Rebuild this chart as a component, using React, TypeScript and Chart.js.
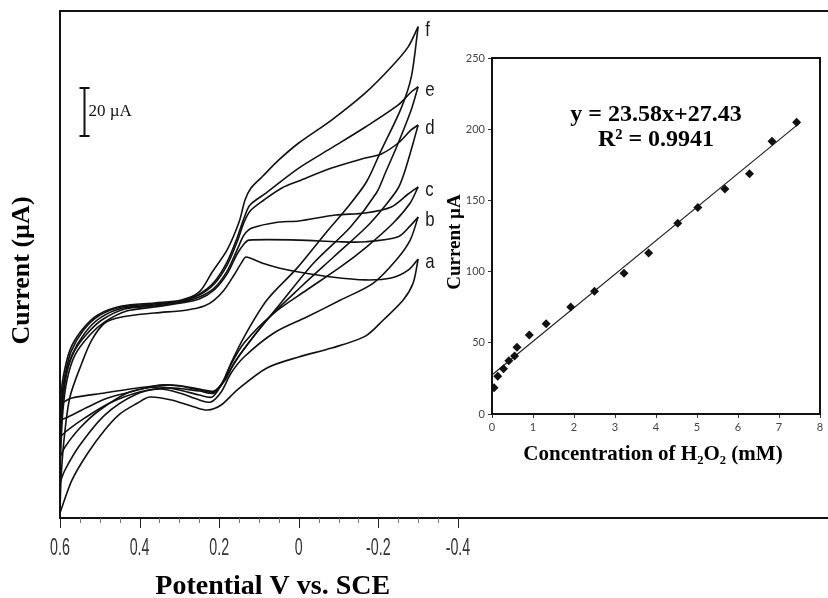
import React, { useEffect, useRef } from 'react';
import { Chart, registerables } from 'chart.js';

Chart.register(...registerables);

type Pt = [number, number];

// ---------- Cyclic voltammograms (potential V, current µA) ----------
const curveNames = ['a', 'b', 'c', 'd', 'e', 'f'];

const aUpper: Pt[] = [[0.6, 2.1], [0.5975, 15.8], [0.59, 32.5], [0.575, 50.4], [0.545, 64.6], [0.52, 74.2], [0.4875, 81.25], [0.445, 83.75], [0.3625, 85.4], [0.28, 86.7], [0.2375, 88.3], [0.2125, 90.8], [0.1875, 95], [0.1625, 101.25], [0.1425, 106.7], [0.1325, 108.75], [0.0925, 106.25], [0.05, 104.2], [0, 102.5], [-0.0825, 100.4], [-0.1675, 99.2], [-0.2325, 100], [-0.275, 103.3], [-0.3, 107.9]];
const aLower: Pt[] = [[-0.3, 107.9], [-0.2875, 97.9], [-0.2625, 90.8], [-0.2125, 82.5], [-0.1675, 75.8], [-0.0825, 70.8], [0, 67.1], [0.08, 62.5], [0.155, 53.3], [0.195, 47.1], [0.23, 45], [0.2625, 46.25], [0.32, 49.2], [0.375, 50.4], [0.405, 47.9], [0.45, 43.3], [0.4875, 36.7], [0.53, 27.1], [0.57, 15.8], [0.6, 2.1]];

const bUpper: Pt[] = [[0.6, 14.6], [0.5975, 30.4], [0.5925, 45], [0.5825, 57.5], [0.5625, 67.9], [0.525, 76.25], [0.4875, 81.7], [0.4325, 86.25], [0.3625, 87.9], [0.295, 89.6], [0.25, 91.25], [0.2125, 95], [0.18, 101.7], [0.155, 110], [0.1375, 114.2], [0.125, 115.8], [0, 115.8], [-0.1, 115.1], [-0.1675, 115.1], [-0.25, 117.2], [-0.28, 121.7], [-0.3, 125.4]];
const bLower: Pt[] = [[-0.3, 125.4], [-0.28, 115.8], [-0.245, 107.5], [-0.1875, 97.9], [-0.105, 90.8], [-0.02, 83.75], [0.0625, 77.1], [0.1375, 67.1], [0.17, 60.4], [0.195, 52.5], [0.221, 48.3], [0.25, 49.2], [0.3, 52.1], [0.35, 53.75], [0.4125, 51.25], [0.4875, 42.9], [0.55, 30.4], [0.5875, 20], [0.6, 14.6]];

const cUpper: Pt[] = [[0.6, 25.4], [0.5975, 38.75], [0.59, 53.3], [0.58, 62.5], [0.5625, 70], [0.5325, 76.7], [0.495, 82.5], [0.4375, 87.1], [0.3625, 88.3], [0.295, 90], [0.25, 92.1], [0.2125, 95.8], [0.18, 102.9], [0.155, 111.7], [0.1375, 117.9], [0.1175, 120.8], [0.05, 123.3], [0, 123.75], [-0.0925, 126.25], [-0.1675, 127.1], [-0.2325, 129.6], [-0.275, 135], [-0.3, 138]];
const cLower: Pt[] = [[-0.3, 138], [-0.28, 131.25], [-0.2375, 122.9], [-0.17, 112.9], [-0.105, 104.6], [-0.02, 95], [0.0625, 85.4], [0.1375, 72.9], [0.175, 62.5], [0.195, 55.4], [0.2175, 50.4], [0.25, 51.25], [0.3, 53.3], [0.35, 54.6], [0.425, 52.5], [0.5, 45], [0.55, 37.5], [0.5875, 29.6], [0.6, 25.4]];

const dUpper: Pt[] = [[0.6, 33.75], [0.595, 47.1], [0.5875, 57.5], [0.57, 67.9], [0.5375, 77.1], [0.5, 83.3], [0.4425, 87.5], [0.3625, 88.75], [0.295, 90.4], [0.25, 92.9], [0.2125, 97.5], [0.18, 105.4], [0.155, 115], [0.1375, 123.3], [0.12, 128.3], [0.0875, 132.5], [0.0425, 137.5], [0, 140.4], [-0.0825, 145.8], [-0.1675, 150], [-0.2075, 151.7], [-0.25, 156.25], [-0.2825, 161.7], [-0.3, 163.75]];
const dLower: Pt[] = [[-0.3, 163.75], [-0.2875, 156.25], [-0.2675, 145], [-0.25, 137.5], [-0.2125, 129.2], [-0.17, 121.25], [-0.0875, 108.75], [-0.005, 96.25], [0.08, 82.5], [0.145, 68.75], [0.18, 59.6], [0.2125, 52.1], [0.25, 52.9], [0.325, 54.2], [0.4, 52.5], [0.475, 47.9], [0.5375, 41.7], [0.58, 36.7], [0.6, 33.75]];

const eUpper: Pt[] = [[0.6, 40.8], [0.595, 51.25], [0.5875, 59.6], [0.5725, 69.2], [0.5425, 77.9], [0.5025, 84.2], [0.445, 87.9], [0.3625, 89.2], [0.295, 90.4], [0.25, 93.3], [0.2125, 98.3], [0.18, 106.7], [0.155, 116.7], [0.1375, 125], [0.1225, 130.4], [0.0825, 135.4], [0, 145.8], [-0.0825, 154.2], [-0.1675, 162.9], [-0.25, 172.1], [-0.2825, 177.5], [-0.3, 179.7]];
const eLower: Pt[] = [[-0.3, 179.7], [-0.2825, 170], [-0.25, 156.25], [-0.2175, 143.75], [-0.195, 135.4], [-0.13, 121.25], [-0.0375, 106.25], [0.045, 89.6], [0.12, 74.2], [0.1625, 64.6], [0.185, 57.5], [0.2125, 52.5], [0.25, 53.3], [0.3, 55], [0.35, 55.4], [0.405, 53.3], [0.48, 50], [0.53, 46.25], [0.58, 42.1], [0.6, 40.8]];

const fUpper: Pt[] = [[0.6, 47.5], [0.5925, 58.3], [0.575, 70], [0.545, 78.3], [0.505, 84.6], [0.445, 88.3], [0.3625, 89.6], [0.295, 90.8], [0.25, 94.2], [0.2175, 102.5], [0.18, 111.7], [0.15, 123.3], [0.135, 132.5], [0.12, 137.5], [0.0925, 142.1], [0.05, 149.2], [0, 156.25], [-0.0825, 165.8], [-0.1675, 177.1], [-0.2325, 187.9], [-0.275, 196.3], [-0.3, 204.7]];
const fLower: Pt[] = [[-0.3, 204.7], [-0.283, 183.9], [-0.2575, 170.8], [-0.2075, 153.3], [-0.17, 140], [-0.117, 128.3], [-0.07, 119.2], [0.005, 104], [0.08, 90.8], [0.1375, 75.4], [0.17, 64.6], [0.1875, 57.5], [0.2125, 52.9], [0.2375, 53.3], [0.2625, 54.2], [0.32, 55.4], [0.405, 54.2], [0.4875, 52.1], [0.57, 50], [0.6, 47.5]];

const upperBranches: Pt[][] = [aUpper, bUpper, cUpper, dUpper, eUpper, fUpper];
const lowerBranches: Pt[][] = [aLower, bLower, cLower, dLower, eLower, fLower];

const potentialTicks = [0.6, 0.55, 0.5, 0.45, 0.4, 0.35, 0.3, 0.25, 0.2, 0.15, 0.1, 0.05, 0, -0.05, -0.1, -0.15, -0.2, -0.25, -0.3, -0.35, -0.4];
const potentialLabels = [0.6, 0.4, 0.2, 0, -0.2, -0.4];

const scaleBarPotential = 0.54;
const scaleBarBase = 159.2;
const scaleBarSpan = 20;
const scaleBarText = '20 µA';

// ---------- Inset calibration ----------
const concentrationMM = [0.05, 0.14, 0.28, 0.41, 0.55, 0.61, 0.91, 1.32, 1.92, 2.5, 3.22, 3.82, 4.53, 5.02, 5.68, 6.28, 6.83, 7.43];
const currentUA = [18.5, 26.5, 31.8, 37.4, 40.7, 46.8, 55.5, 63.4, 75.1, 86.2, 98.9, 113, 134, 145, 158, 168.8, 191.5, 204.8];
const fitSlope = 23.58;
const fitIntercept = 27.43;
const fitRange = [0.02, 7.5];
const equationText = 'y = 23.58x+27.43';
const r2Text = 'R² = 0.9941';

const SERIF = "'Liberation Serif', 'Times New Roman', 'DejaVu Serif', serif";
const SANS = "'Liberation Sans', Arial, sans-serif";
const SMALL = "Lato, 'Liberation Sans', sans-serif";

const isLabeled = (v: number) => potentialLabels.some((m) => Math.abs(m - v) < 1e-9);

function condensedText(ctx: CanvasRenderingContext2D, text: string, x: number, y: number, sx: number) {
  ctx.save();
  ctx.translate(x, y);
  ctx.scale(sx, 1);
  ctx.fillText(text, 0, 0);
  ctx.restore();
}

export default function App() {
  const mainRef = useRef<HTMLCanvasElement>(null);
  const insetRef = useRef<HTMLCanvasElement>(null);

  useEffect(() => {
    const toXY = (arr: Pt[]) => arr.map(([x, y]) => ({ x, y }));
    const datasets: any[] = [];
    [...upperBranches, ...lowerBranches].forEach((branch) => {
      datasets.push({
        data: toXY(branch),
        showLine: true,
        borderColor: '#111',
        borderWidth: 1.6,
        pointRadius: 0,
        tension: 0.3,
        fill: false,
      });
    });

    const mainPlugin = {
      id: 'mainDecor',
      afterDraw(chart: any) {
        const { ctx, chartArea } = chart;
        const x = chart.scales.x;
        const y = chart.scales.y;
        ctx.save();
        // tick marks and labels
        potentialTicks.forEach((v) => {
          const px = Math.round(x.getPixelForValue(v)) + 0.5;
          const major = isLabeled(v);
          ctx.strokeStyle = major ? '#222' : '#777';
          ctx.lineWidth = 1;
          ctx.beginPath();
          ctx.moveTo(px, chartArea.bottom);
          ctx.lineTo(px, chartArea.bottom + (major ? 10 : 5));
          ctx.stroke();
        });
        ctx.fillStyle = '#333';
        ctx.font = `23px ${SANS}`;
        ctx.textAlign = 'center';
        ctx.textBaseline = 'top';
        potentialLabels.forEach((v) => {
          condensedText(ctx, String(v), x.getPixelForValue(v), chartArea.bottom + 19, 0.62);
        });
        // curve labels
        ctx.fillStyle = '#1a1a1a';
        ctx.font = `21px ${SANS}`;
        ctx.textAlign = 'left';
        ctx.textBaseline = 'alphabetic';
        upperBranches.forEach((branch, i) => {
          const tip = branch[branch.length - 1];
          condensedText(ctx, curveNames[i], x.getPixelForValue(tip[0]) + 7, y.getPixelForValue(tip[1]) + 9, 0.8);
        });
        // scale bar
        const bx = Math.round(x.getPixelForValue(scaleBarPotential)) + 0.5;
        const by0 = y.getPixelForValue(scaleBarBase);
        const by1 = y.getPixelForValue(scaleBarBase + scaleBarSpan);
        ctx.strokeStyle = '#111';
        ctx.lineWidth = 2;
        ctx.beginPath();
        ctx.moveTo(bx, by0);
        ctx.lineTo(bx, by1);
        ctx.moveTo(bx - 5, by0);
        ctx.lineTo(bx + 5, by0);
        ctx.moveTo(bx - 5, by1);
        ctx.lineTo(bx + 5, by1);
        ctx.stroke();
        ctx.fillStyle = '#111';
        ctx.font = `17px ${SERIF}`;
        ctx.textBaseline = 'middle';
        ctx.fillText(scaleBarText, bx + 4, (by0 + by1) / 2);
        // axis titles
        ctx.fillStyle = '#000';
        ctx.font = `bold 26px ${SERIF}`;
        ctx.textAlign = 'center';
        ctx.textBaseline = 'middle';
        ctx.save();
        ctx.translate(22, (chartArea.top + chartArea.bottom) / 2 + 6);
        ctx.rotate(-Math.PI / 2);
        ctx.fillText('Current (µA)', 0, 0);
        ctx.restore();
        ctx.font = `bold 28px ${SERIF}`;
        ctx.textBaseline = 'alphabetic';
        ctx.fillText('Potential V vs. SCE', x.getPixelForValue(0) - 26, 594);
        ctx.restore();
      },
    };

    const mainChart = new Chart(mainRef.current!, {
      type: 'scatter',
      data: { datasets },
      options: {
        responsive: false,
        animation: false,
        devicePixelRatio: 1,
        layout: { padding: 0 },
        plugins: { legend: { display: false }, tooltip: { enabled: false } },
        scales: {
          x: {
            type: 'linear',
            position: 'bottom',
            reverse: true,
            min: -1.33,
            max: 0.6,
            afterFit: (s: any) => {
              s.height = 80;
            },
            grid: { drawOnChartArea: false, drawTicks: false },
            border: { display: true, color: '#111', width: 2 },
            ticks: { display: false },
          },
          x2: {
            type: 'linear',
            position: 'top',
            reverse: true,
            min: -1.33,
            max: 0.6,
            afterFit: (s: any) => {
              s.height = 11;
            },
            grid: { drawOnChartArea: false, drawTicks: false },
            border: { display: true, color: '#111', width: 2 },
            ticks: { display: false },
          },
          y: {
            type: 'linear',
            min: 0,
            max: 211.25,
            afterFit: (s: any) => {
              s.width = 60;
            },
            grid: { drawOnChartArea: false, drawTicks: false },
            border: { display: true, color: '#111', width: 2 },
            ticks: { display: false },
          },
        },
      },
      plugins: [mainPlugin],
    } as any);

    // ---------- Inset ----------
    const insetPlugin = {
      id: 'insetDecor',
      afterDraw(chart: any) {
        const { ctx, chartArea } = chart;
        ctx.save();
        ctx.strokeStyle = '#111';
        ctx.lineWidth = 2;
        ctx.strokeRect(chartArea.left, chartArea.top, chartArea.right - chartArea.left, chartArea.bottom - chartArea.top);
        const cx = (chartArea.left + chartArea.right) / 2;
        ctx.fillStyle = '#000';
        ctx.textAlign = 'center';
        ctx.textBaseline = 'middle';
        ctx.font = `bold 24px ${SERIF}`;
        ctx.fillText(equationText, cx, chartArea.top + 57);
        ctx.fillText(r2Text, cx, chartArea.top + 82);
        ctx.font = `bold 21px ${SERIF}`;
        ctx.textBaseline = 'alphabetic';
        ctx.fillText('Concentration of H₂O₂ (mM)', cx - 3, chartArea.bottom + 46);
        ctx.font = `bold 19px ${SERIF}`;
        ctx.textBaseline = 'middle';
        ctx.translate(19, (chartArea.top + chartArea.bottom) / 2 + 6);
        ctx.rotate(-Math.PI / 2);
        ctx.fillText('Current µA', 0, 0);
        ctx.restore();
      },
    };

    const tickFont = { family: SMALL, size: 11 };
    const insetChart = new Chart(insetRef.current!, {
      type: 'scatter',
      data: {
        datasets: [
          {
            data: concentrationMM.map((c, i) => ({ x: c, y: currentUA[i] })),
            pointStyle: 'rectRot',
            pointRadius: 4.5,
            backgroundColor: '#111',
            borderColor: '#111',
            borderWidth: 0,
            showLine: false,
          },
          {
            data: fitRange.map((c) => ({ x: c, y: fitSlope * c + fitIntercept })),
            showLine: true,
            pointRadius: 0,
            borderColor: '#222',
            borderWidth: 1.2,
          },
        ],
      },
      options: {
        responsive: false,
        animation: false,
        devicePixelRatio: 1,
        layout: { padding: { top: 18, right: 8, left: 0, bottom: 0 } },
        plugins: { legend: { display: false }, tooltip: { enabled: false } },
        scales: {
          x: {
            type: 'linear',
            min: 0,
            max: 8,
            afterFit: (s: any) => {
              s.height = 56;
            },
            grid: { drawOnChartArea: false, drawTicks: true, tickLength: 4, color: '#333' },
            border: { display: false },
            ticks: { stepSize: 1, color: '#444', font: tickFont, padding: 3, maxRotation: 0 },
          },
          y: {
            type: 'linear',
            min: 0,
            max: 250,
            afterFit: (s: any) => {
              s.width = 56;
            },
            grid: { drawOnChartArea: false, drawTicks: true, tickLength: 4, color: '#333' },
            border: { display: false },
            ticks: { stepSize: 50, color: '#444', font: tickFont, padding: 3 },
          },
        },
      },
      plugins: [insetPlugin],
    } as any);

    return () => {
      mainChart.destroy();
      insetChart.destroy();
    };
  }, []);

  return (
    <div style={{ position: 'absolute', left: 0, top: 0, width: 828, height: 598, overflow: 'hidden', background: '#fff' }}>
      <canvas ref={mainRef} width={828} height={598} style={{ position: 'absolute', left: 0, top: 0 }} />
      <canvas ref={insetRef} width={392} height={430} style={{ position: 'absolute', left: 436, top: 40 }} />
    </div>
  );
}
